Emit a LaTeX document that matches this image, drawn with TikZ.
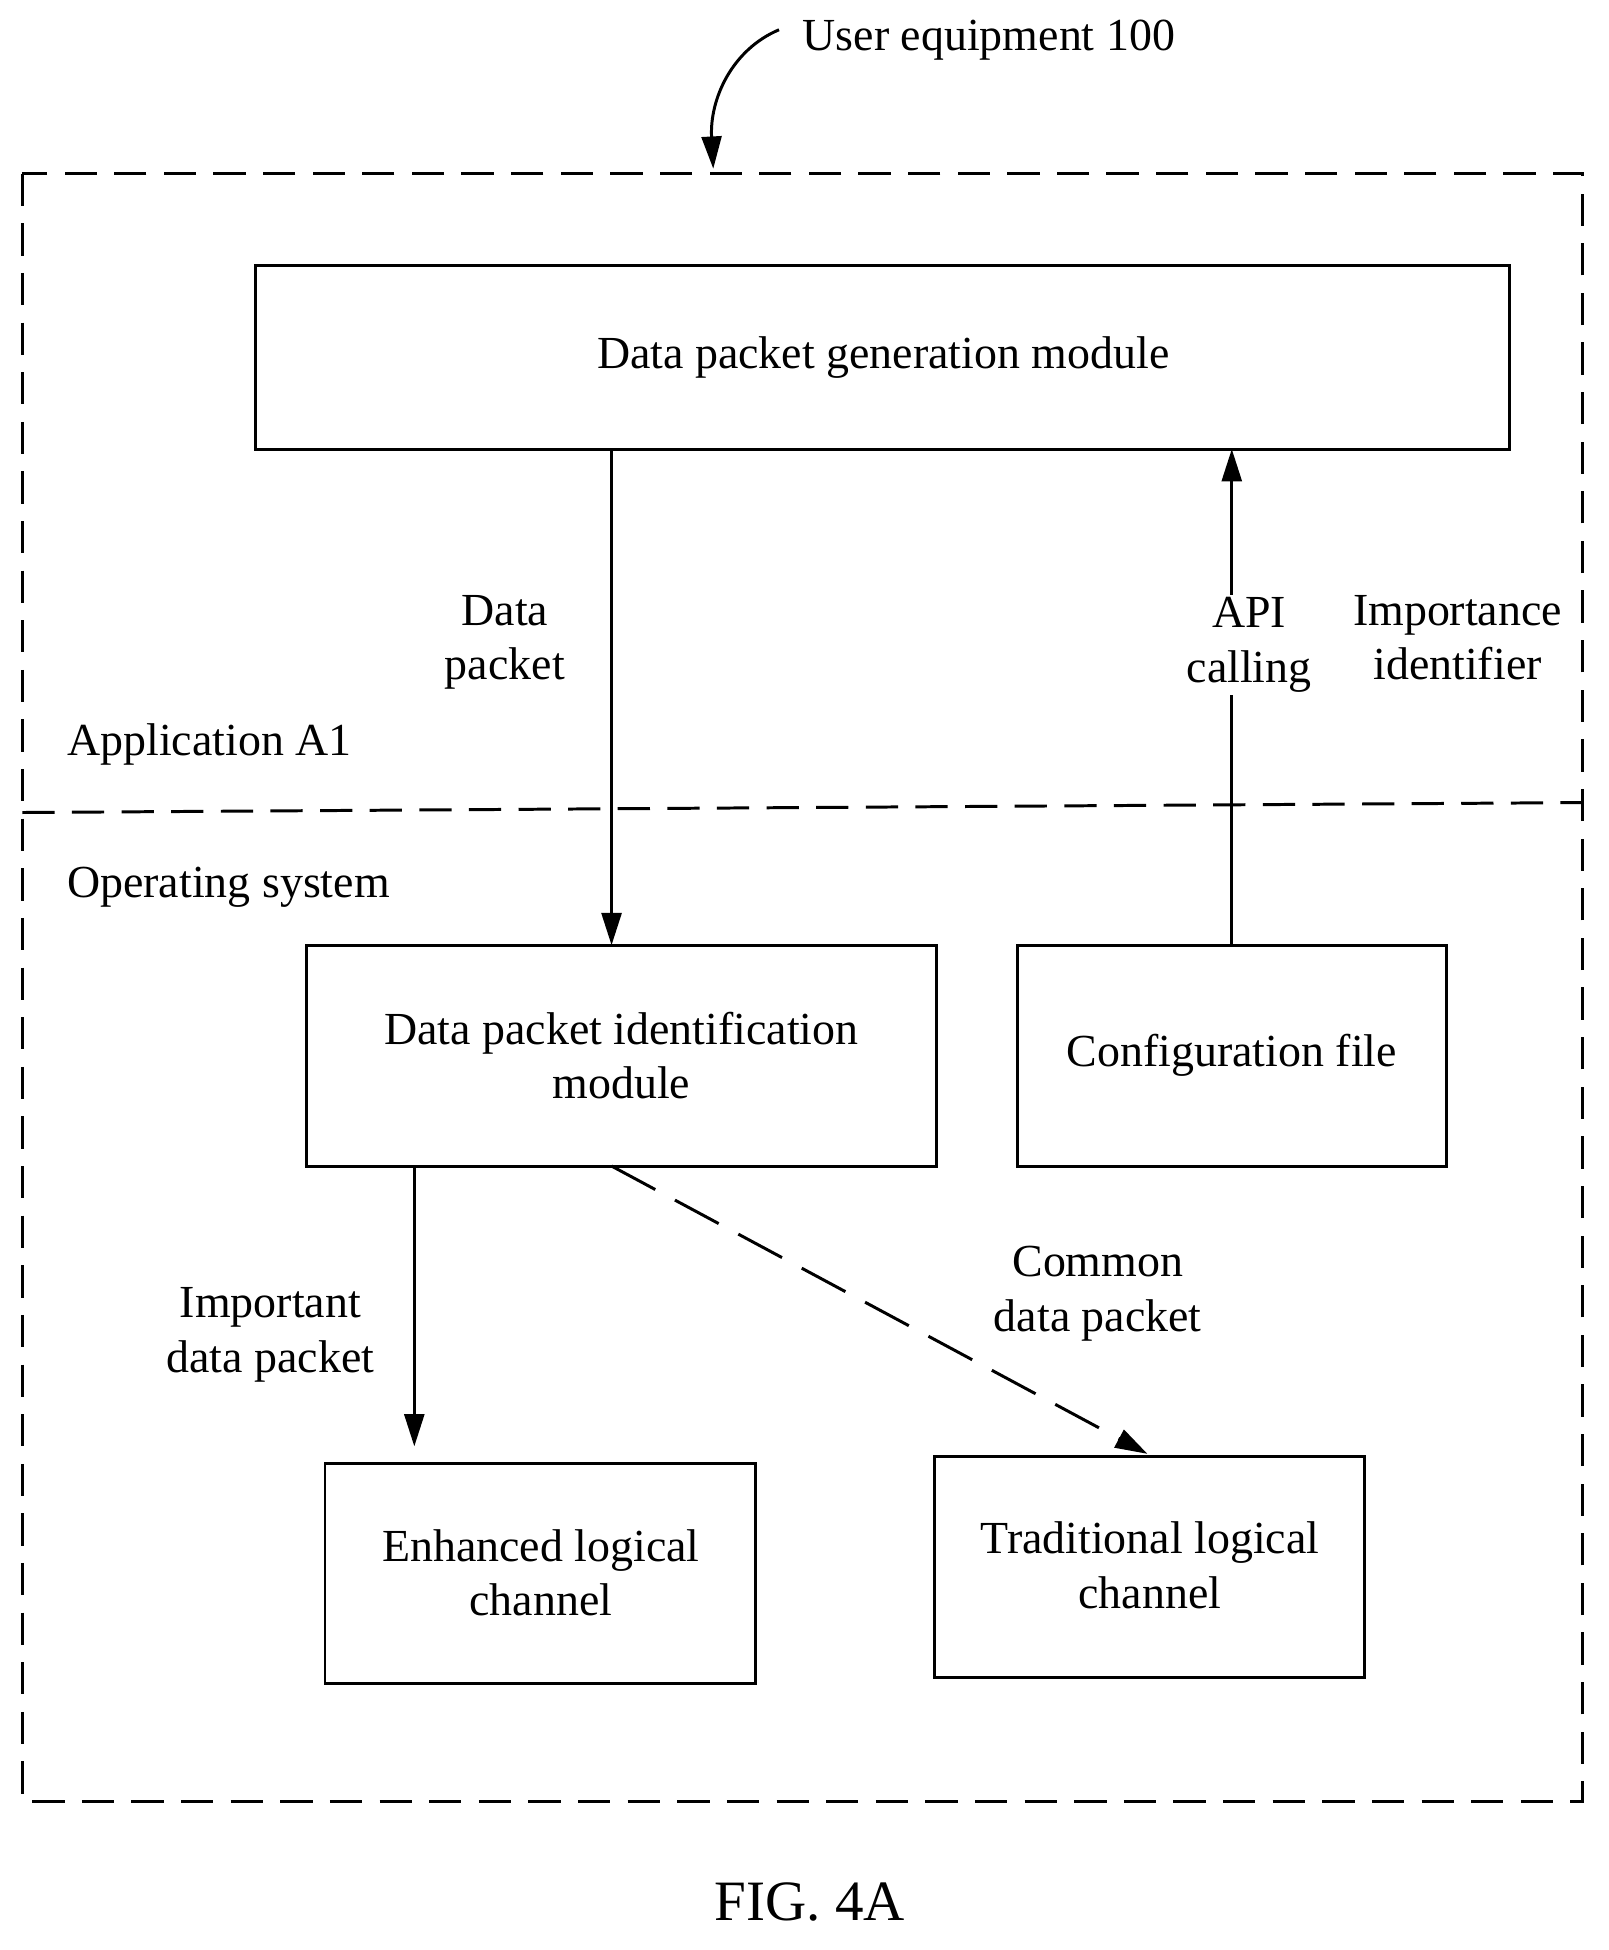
\documentclass[tikz,border=0pt]{standalone}
\usepackage{fontspec}
\setmainfont{Liberation Serif}
\usetikzlibrary{arrows.meta}
\begin{document}
\begin{tikzpicture}[x=1pt,y=-1pt,
  lbl/.style={align=center,font=\fontsize{37}{44}\selectfont,inner sep=2pt},
  arr/.style={line width=2.4pt,-{Triangle[length=26pt,width=16pt]}},
  dsh/.style={line width=2.4pt,dash pattern=on 26pt off 14pt}]
\useasboundingbox (0,0) rectangle (1297,1572);

%Shape: outer frame and divider
\draw [dsh] (18,140) rectangle (1276,1452);
\draw [dsh] (18,655) -- (1276,647);

%Boxes
\draw [line width=2.4pt] (206,214) rectangle (1217,362);
\node [lbl] (gen) at (712,288) {Data packet generation module};
\coordinate (genA) at (493,362);
\coordinate (genB) at (993,362);
\draw [line width=2.4pt] (247,762) rectangle (755,940);
\node [lbl] (ident) at (501,851) {Data packet identification\\module};
\coordinate (identA) at (493,762);
\coordinate (identB) at (334,940);
\coordinate (identC) at (493,940);
\draw [line width=2.4pt] (820,762) rectangle (1166,940);
\node [lbl] (conf) at (993,851) {Configuration file};
\coordinate (confA) at (993,762);
\draw [line width=2.4pt] (262,1180) rectangle (609,1357);
\node [lbl] (enh) at (436,1268) {Enhanced logical\\channel};
\coordinate (enhA) at (334,1166);
\draw [line width=2.4pt] (753,1174) rectangle (1100,1352);
\node [lbl] (trad) at (927,1262) {Traditional logical\\channel};
\coordinate (tradA) at (925,1172);

%Connectors
\draw [arr] (genA) -- (identA);
\draw [arr] (confA) -- (genB);
\draw [arr] (identB) -- (enhA);
\draw [arr,dash pattern=on 40pt off 18pt] (identC) -- (tradA);

%Labels
\node [lbl] (l1) at (407,518) {Data\\packet};
\node [lbl,fill=white] (l2) at (1007,520) {API\\calling};
\node [lbl] (l3) at (1175,514) {Importance\\identifier};
\node [lbl,anchor=west] (l4) at (52,600) {Application A1};
\node [lbl,anchor=west] (l5) at (52,715) {Operating system};
\node [lbl] (l6) at (218,1076) {Important\\data packet};
\node [lbl] (l7) at (885,1043) {Common\\data packet};
\node [lbl,anchor=west] (ue) at (645,32) {User equipment 100};
\coordinate (ueA) at (575,136);
\draw [arr] (628,24) .. controls (590,40) and (572,80) .. (ueA);
\node [font=\fontsize{46}{52}\selectfont] (fig) at (653,1533) {FIG. 4A};
\end{tikzpicture}
\end{document}
